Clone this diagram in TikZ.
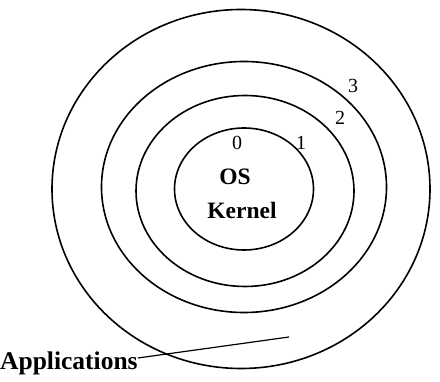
\documentclass[tikz,border=0pt]{standalone}
\usepackage{fontspec}
\setmainfont{Liberation Serif}
\usetikzlibrary{shapes.geometric}

\begin{document}
\begin{tikzpicture}[
        x=1pt, y=-1pt,
        ring/.style={ellipse, draw, line width=1.6pt, inner sep=0pt},
        num/.style={font=\fontsize{20}{22}\selectfont},
        txt/.style={font=\fontsize{23.5}{26}\selectfont\bfseries, inner sep=0pt}
      ]
      \useasboundingbox (0,0) rectangle (440,382);
      % rings, innermost first
      \node[ring, minimum width=139pt, minimum height=122pt] (ring0) at (244,189) {};
      \node[ring, minimum width=218pt, minimum height=191pt] (ring1) at (245,191) {};
      \node[ring, minimum width=285pt, minimum height=251pt] (ring2) at (244,187) {};
      \node[ring, minimum width=378pt, minimum height=359pt] (ring3) at (241,189) {};

      \node[num] (n0) at (237,143) {0};
      \node[num] (n1) at (301,143) {1};
      \node[num] (n2) at (340,118) {2};
      \node[num] (n3) at (353,86) {3};

      \node[txt] (os) at (235,177) {OS};
      \node[txt] (kernel) at (242,210) {Kernel};

      \node[txt, font=\fontsize{25.5}{28}\selectfont\bfseries, anchor=west] (apps) at (0,363) {Applications};
      \coordinate (appsend) at (289,337);
      \draw[line width=1.2pt] ([yshift=5pt]apps.east) -- (appsend);
    \end{tikzpicture}
\end{document}
